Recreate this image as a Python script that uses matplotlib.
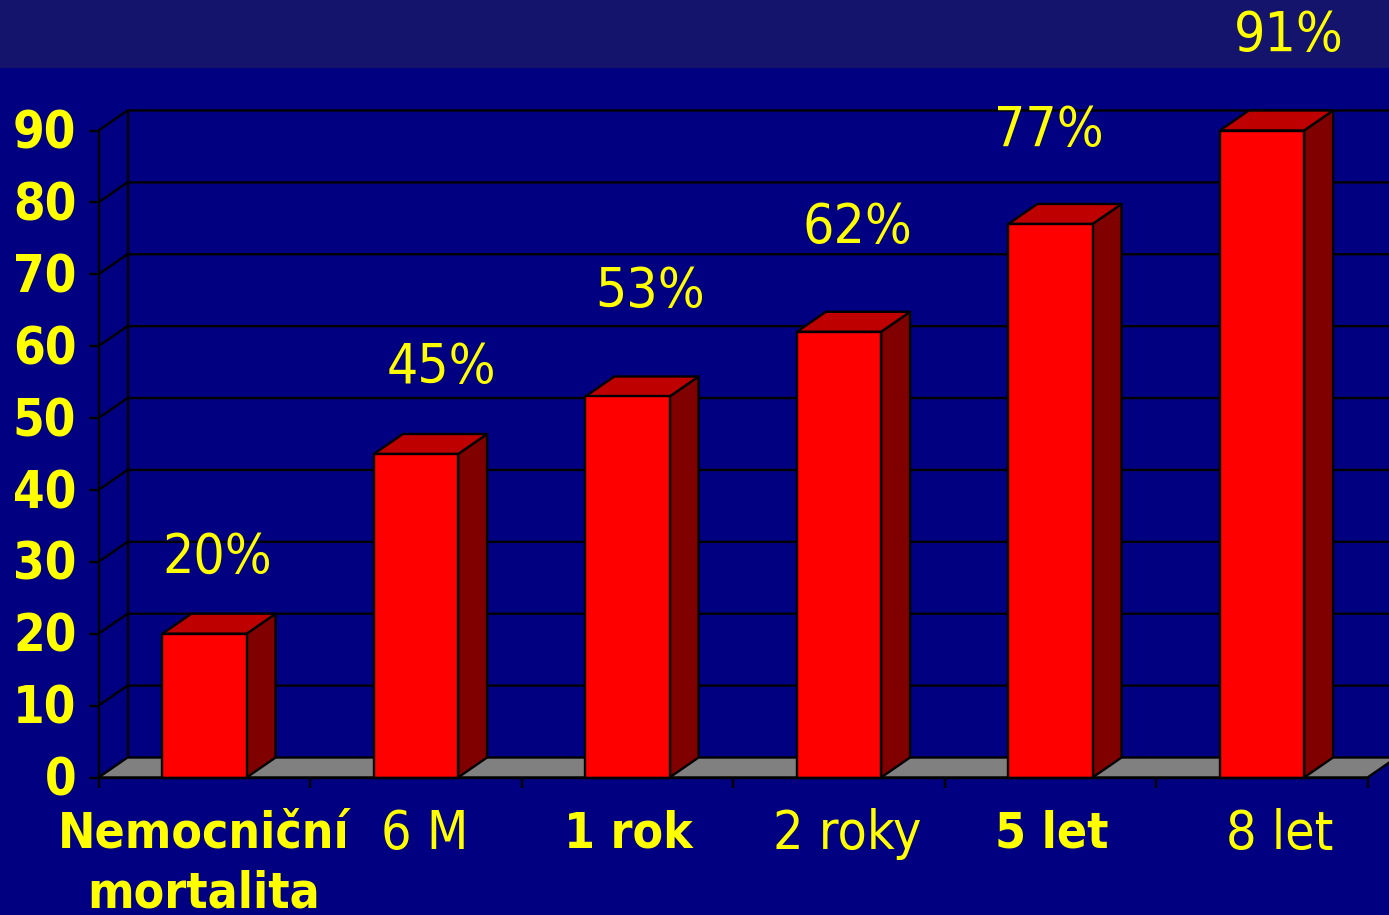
import matplotlib
matplotlib.use('Agg')
import matplotlib.pyplot as plt
from matplotlib.patches import Polygon, Rectangle

# mortality by time after the event (percent)
categories = ['Nemocniční\nmortalita', '6 M', '1 rok', '2 roky', '5 let', '8 let']
bold_category = [True, False, True, False, True, False]
mortality = [20, 45, 53, 62, 77, 91]
y_ticks = [0, 10, 20, 30, 40, 50, 60, 70, 80, 90]

W, H = 1389, 915
NAVY = '#000080'
BAND = '#14146c'
YELLOW = '#ffff00'
FONT = 'DejaVu Sans'

# plot area in pixels, the value axis stops at 90
LEFT, RIGHT, BOTTOM, TOP = 98.5, 1367.5, 777.5, 130.5
YMAX = 90
DEPTH_X = 29 / ((RIGHT - LEFT) / len(categories))
DEPTH_Y = 20 / ((BOTTOM - TOP) / YMAX)
BAR_LEFT = 0.302
BAR_WIDTH = 0.398
LW = 1.7

# where the percent labels sit, in pixels
pct_pos = [(217, 558), (441, 368), (650, 292), (857, 228), (1049, 131), (1289, 36)]
cat_pos = [204, 425, 628, 847, 1052, 1280]


def poly(ax, pts, color, zorder=2):
    ax.add_patch(Polygon(pts, closed=True, facecolor=color, edgecolor='black',
                         linewidth=LW, joinstyle='round', clip_on=False, zorder=zorder))


def line(ax, xs, ys, zorder=1):
    ax.plot(xs, ys, color='black', linewidth=LW, clip_on=False, zorder=zorder,
            solid_capstyle='butt')


def bar3d(ax, x, value):
    top = min(value, YMAX)
    x2 = x + BAR_WIDTH
    poly(ax, [(x2, 0), (x2 + DEPTH_X, DEPTH_Y), (x2 + DEPTH_X, top + DEPTH_Y), (x2, top)], '#800000', 3)
    poly(ax, [(x, top), (x2, top), (x2 + DEPTH_X, top + DEPTH_Y), (x + DEPTH_X, top + DEPTH_Y)], '#bf0000', 3)
    poly(ax, [(x, 0), (x2, 0), (x2, top), (x, top)], '#ff0000', 4)


def main():
    fig = plt.figure(figsize=(W / 100, H / 100), dpi=100, facecolor=NAVY)
    fig.add_artist(Rectangle((0, 1 - 68 / H), 1, 68 / H, transform=fig.transFigure,
                             facecolor=BAND, edgecolor='none'))

    ax = fig.add_axes([LEFT / W, 1 - BOTTOM / H, (RIGHT - LEFT) / W, (BOTTOM - TOP) / H])
    ax.patch.set_alpha(0)
    ax.set_xlim(0, len(categories))
    ax.set_ylim(0, YMAX)
    ax.axis('off')

    n = len(categories)
    # floor
    poly(ax, [(0, 0), (n, 0), (n + DEPTH_X, DEPTH_Y), (DEPTH_X, DEPTH_Y)], '#808080', 1)

    # walls and gridlines
    tick_x = 10 / ((RIGHT - LEFT) / n)
    for v in y_ticks:
        if v > 0:
            line(ax, [0, DEPTH_X, n + 2 * DEPTH_X], [v, v + DEPTH_Y, v + DEPTH_Y])
        line(ax, [-tick_x, 0], [v, v])
    line(ax, [0, 0], [0, YMAX])
    line(ax, [DEPTH_X, DEPTH_X], [DEPTH_Y, YMAX + DEPTH_Y])
    line(ax, [0, n], [0, 0], zorder=5)
    tick_y = 10 / ((BOTTOM - TOP) / YMAX)
    for i in range(n + 1):
        line(ax, [i, i], [0, -tick_y], zorder=5)

    for i, value in enumerate(mortality):
        bar3d(ax, i + BAR_LEFT, value)

    # tick labels
    for v in y_ticks:
        ax.annotate(str(v), (0, v), xytext=(-16, -3), textcoords='offset points',
                    ha='right', va='center', color=YELLOW, fontsize=36.5,
                    fontweight='bold', family=FONT, stretch='condensed')

    for i, name in enumerate(categories):
        weight = 'bold' if bold_category[i] else 'normal'
        size = 35.7 if bold_category[i] else 38.5
        parts = name.split('\n')
        fig.text(cat_pos[i] / W, 1 - 834 / H, parts[0], ha='center', va='center', color=YELLOW,
                 fontsize=size, fontweight=weight, family=FONT, stretch='condensed')
        if len(parts) > 1:
            fig.text(cat_pos[i] / W, 1 - 894 / H, parts[1], ha='center', va='center', color=YELLOW,
                     fontsize=size, fontweight=weight, family=FONT, stretch='condensed')

    # percent labels
    for (px, py), value in zip(pct_pos, mortality):
        fig.text(px / W, 1 - py / H, f'{value}%', ha='center', va='center', color=YELLOW,
                 fontsize=39.5, family=FONT, stretch='condensed')

    fig.savefig('out.png', dpi=100, facecolor=NAVY)


main()
